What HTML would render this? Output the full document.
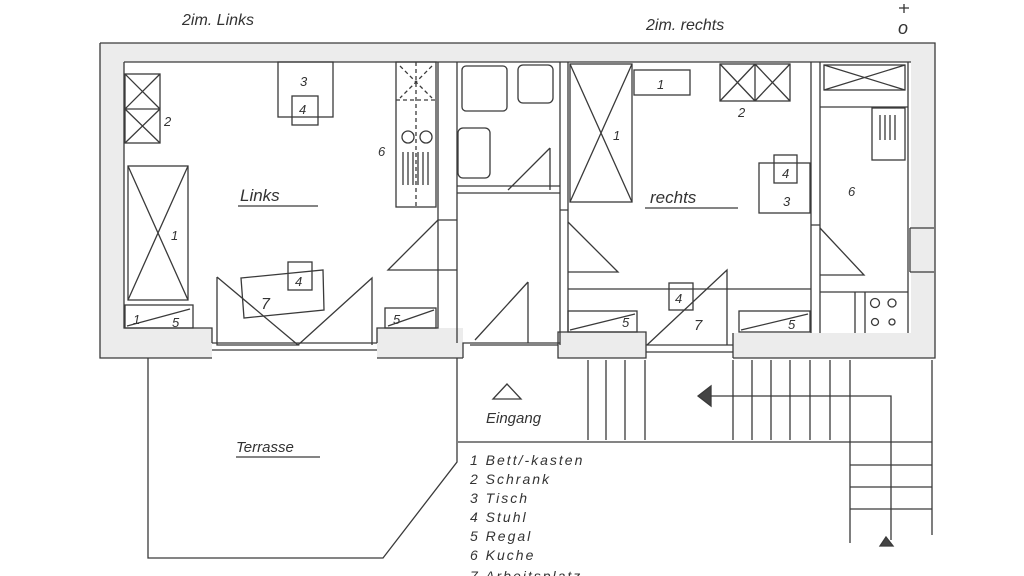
<!DOCTYPE html>
<html><head><meta charset="utf-8"><style>
html,body{margin:0;padding:0;background:#fff;}
svg{display:block}
text{font-family:"Liberation Sans",sans-serif;font-style:italic;fill:#333;}
</style></head><body>
<svg width="1024" height="576" viewBox="0 0 1024 576" xmlns="http://www.w3.org/2000/svg">
<g stroke="#3a3a3a" stroke-width="1.3" fill="none">
<path d="M100 43 H935 V358 H733 V333 H911 V62 H124 V328 H212 V358 H100 Z" fill="#ececec" stroke="none"/>
<rect x="377" y="328" width="86" height="30" fill="#ececec" stroke="none"/>
<rect x="558" y="332" width="88" height="26" fill="#ececec" stroke="none"/>
<path d="M100 43 H935 V358 H733 M100 43 V358 H212"/>
<path d="M124 62 H911 M124 62 V328 H212 V343 M377 343 V328 H438 V62 M377 358 H463 M212 343 H377 M212 350 H377"/>
<path d="M457 62 V343 M438 220 H457 M438 270 H457"/>
<path d="M457 193 H560 M457 186 H560"/>
<path d="M560 62 V345 M568 62 V332 M560 210 H568"/>
<path d="M463 358 V343 H560 M470 345 H558 M558 332 H646 V358 H558 Z"/>
<path d="M646 345 H733 M646 352 H733 M733 333 V358"/>
<path d="M811 62 V333 M820 62 V333 M811 225 H820"/>
<path d="M908 62 V333 M910 228 H934 M910 272 H934 M910 228 V272"/>
<rect x="125" y="74" width="35" height="69"/><path d="M125 109 H160 M125 74 L160 109 M160 74 L125 109 M125 109 L160 143 M160 109 L125 143"/>
<rect x="128" y="166" width="60" height="134"/><path d="M128 166 L188 300 M188 166 L128 300"/>
<rect x="125" y="305" width="68" height="23"/><path d="M127 326 L190 309"/>
<rect x="278" y="62" width="55" height="55"/><rect x="292" y="96" width="26" height="29"/>
<rect x="396" y="62" width="40" height="145"/><path d="M396 100 H436 M416 62 V207" stroke-dasharray="4 3"/>
<path d="M400 66 L432 98 M432 66 L400 98" stroke-dasharray="4 3"/>
<circle cx="408" cy="137" r="6"/><circle cx="426" cy="137" r="6"/>
<path d="M403 152 V185 M408 152 V185 M413 152 V185 M418 152 V185 M423 152 V185 M428 152 V185"/>
<path d="M217 277 V345 L298 345 L217 277 M298 345 L372 278 V345"/>
<polygon points="241,278 323,270 324,310 244,318"/><rect x="288" y="262" width="24" height="28"/>
<path d="M438 220 L388 270 H438"/>
<rect x="385" y="308" width="51" height="20"/><path d="M388 326 L434 310"/>
<rect x="462" y="66" width="45" height="45" rx="4"/><rect x="518" y="65" width="35" height="38" rx="5"/>
<rect x="458" y="128" width="32" height="50" rx="5"/>
<path d="M550 148 L508 190 M550 148 V190"/>
<path d="M528 282 L475 340 M528 282 V343"/>
<rect x="570" y="64" width="62" height="138"/><path d="M570 64 L632 202 M632 64 L570 202"/>
<rect x="634" y="70" width="56" height="25"/>
<rect x="720" y="64" width="70" height="37"/><path d="M755 64 V101 M720 64 L755 101 M755 64 L720 101 M755 64 L790 101 M790 64 L755 101"/>
<rect x="759" y="163" width="51" height="50"/><rect x="774" y="155" width="23" height="28"/>
<path d="M568 222 L618 272 H568"/>
<path d="M568 289 H811"/>
<rect x="568" y="311" width="69" height="21"/><path d="M570 330 L635 314"/>
<rect x="739" y="311" width="71" height="21"/><path d="M741 330 L808 314"/>
<rect x="669" y="283" width="24" height="27"/>
<path d="M647 345 L727 270 V345"/>
<rect x="824" y="65" width="81" height="25"/><path d="M824 65 L905 90 M905 65 L824 90 M820 107 H908"/>
<rect x="872" y="108" width="33" height="52"/><path d="M880 115 V140 M885 115 V140 M890 115 V140 M895 115 V140"/>
<path d="M820 228 L864 275 H820"/>
<path d="M820 292 H908 M855 292 V333 M865 292 V333"/>
<circle cx="875" cy="303" r="4.5"/><circle cx="892" cy="303" r="4"/><circle cx="875" cy="322" r="3.5"/><circle cx="892" cy="322" r="3"/>
<path d="M148 358 V558 H383 L457 462 V358"/>
<path d="M458 442 H932 M588 360 V440 M606 360 V440 M625 360 V440 M645 360 V440"/>
<path d="M733 360 V440 M752 360 V440 M771 360 V440 M790 360 V440 M810 360 V440 M830 360 V440 M850 360 V543 M932 360 V535"/>
<path d="M850 465 H932 M850 487 H932 M850 509 H932"/>
<path d="M705 396 H891 V540"/>
<polygon points="698,396 711,386 711,406" fill="#444"/>
<polygon points="886,537 880,546 893,546" fill="#444"/>
<polygon points="507,384 493,399 521,399"/>
<path d="M238 206 H318 M645 208 H738 M236 457 H320"/>
</g>
<g font-size="13">
<text x="300" y="86">3</text><text x="299" y="114">4</text>
<text x="164" y="126">2</text><text x="171" y="240">1</text>
<text x="133" y="324">1</text><text x="172" y="327">5</text>
<text x="378" y="156">6</text><text x="295" y="286">4</text><text x="261" y="309" font-size="16">7</text>
<text x="393" y="324">5</text>
<text x="613" y="140">1</text><text x="657" y="89">1</text><text x="738" y="117">2</text>
<text x="782" y="178">4</text><text x="783" y="206">3</text>
<text x="675" y="303">4</text><text x="694" y="330" font-size="15">7</text>
<text x="622" y="327">5</text><text x="788" y="329">5</text><text x="848" y="196">6</text>
</g>
<g font-size="17">
<text x="240" y="201">Links</text>
<text x="650" y="203">rechts</text>
<text x="182" y="25" font-size="16">2im. Links</text>
<text x="646" y="30" font-size="16">2im. rechts</text>
<text x="898" y="34" font-size="18">o</text>
<text x="236" y="452" font-size="15">Terrasse</text>
<text x="486" y="423" font-size="15">Eingang</text>
</g>
<g font-size="14" letter-spacing="2">
<text x="470" y="465">1 Bett/-kasten</text>
<text x="470" y="484">2 Schrank</text>
<text x="470" y="503">3 Tisch</text>
<text x="470" y="522">4 Stuhl</text>
<text x="470" y="541">5 Regal</text>
<text x="470" y="560">6 Kuche</text>
<text x="470" y="581">7 Arbeitsplatz</text>
</g>
<path d="M904 4 V13 M899 8 H909" stroke="#333" stroke-width="1.3"/>
</svg>
</body></html>
